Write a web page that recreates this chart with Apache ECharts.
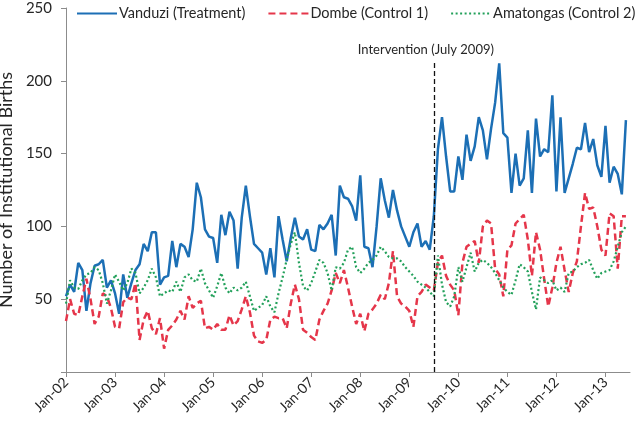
<!DOCTYPE html>
<html>
<head>
<meta charset="utf-8">
<script src="https://cdn.jsdelivr.net/npm/echarts@6/dist/echarts.min.js"></script>
<style>
html,body{margin:0;padding:0;background:#fff;}
#chart{width:640px;height:429px;}
</style>
</head>
<body>
<div id="chart"></div>
<script>
// ---- data ----
const monthNames = ['Jan','Feb','Mar','Apr','May','Jun','Jul','Aug','Sep','Oct','Nov','Dec'];
const startYear = 2002;
const monthCount = 139; // Jan-02 .. Jul-13 (axis extent)
const tickLabels = ['Jan-02','Jan-03','Jan-04','Jan-05','Jan-06','Jan-07','Jan-08','Jan-09','Jan-10','Jan-11','Jan-12','Jan-13'];
const yTicks = [0, 50, 100, 150, 200, 250];
const interventionMonth = 'Jul-09';
const interventionLabel = 'Intervention (July 2009)';
const interventionTop = 214;

const vanduzi = [
 52,60,55,75,70,42,61,73,74,77,58,63,
 54,40,67,51,61,70,74,88,83,96,96,60,
 65,66,90,72,88,86,79,98,130,120,98,93,
 92,75,108,94,110,104,71,106,128,107,88,85,
 82,67,85,65,107,91,76,92,106,93,91,98,
 84,83,101,98,102,108,80,128,120,119,114,104,
 135,86,85,72,100,133,118,106,125,111,100,93,
 86,96,102,86,90,84,107,153,175,148,124,124,
 148,132,163,145,155,175,166,146,167,185,212,164,
 161,123,150,128,133,166,123,174,148,153,151,190,
 124,175,123,133,143,154,153,171,151,160,142,134,
 169,130,141,136,122,173
];
const dombe = [
 35,50,40,39,52,64,50,33,38,54,52,44,
 31,30,48,51,50,61,22,36,42,30,26,37,
 16,29,32,36,42,36,52,44,47,49,30,31,
 29,33,29,29,39,32,35,43,52,41,25,21,
 20,22,36,38,37,37,30,47,60,50,29,27,
 24,22,36,42,47,56,68,61,70,58,45,33,
 40,28,40,43,47,53,50,61,83,52,47,45,
 42,31,52,55,60,58,56,75,80,66,60,56,
 39,75,86,88,90,75,100,104,102,71,67,52,
 84,87,102,105,108,91,66,96,84,64,45,58,
 75,86,70,55,68,76,100,123,112,113,100,84,
 80,109,107,71,107,107
];
const amatongas = [
 47,63,58,57,63,67,68,72,70,61,47,56,
 67,62,56,61,71,68,54,58,63,71,65,52,
 54,56,55,62,55,65,67,63,62,71,61,56,
 51,59,68,58,54,58,56,58,62,52,42,44,
 46,52,45,41,54,65,77,88,96,75,59,56,
 61,69,77,75,68,56,72,71,75,84,86,72,
 68,71,75,77,80,86,83,79,78,78,76,72,
 69,66,62,60,58,55,52,80,60,48,45,52,
 72,62,72,82,69,75,77,75,72,68,63,58,
 55,53,63,74,72,69,55,43,65,63,61,63,
 56,58,55,68,69,72,74,75,77,70,64,68,
 69,70,76,86,96,100
];

// ---- build categories ----
const categories = [];
for (let i = 0; i < monthCount; i++) {
  const y = startYear + Math.floor(i / 12);
  categories.push(monthNames[i % 12] + '-' + String(y % 100).padStart(2, '0'));
}

const FONT = 'Lato, "Open Sans", sans-serif';
const TXT = '#262626';
const AX = '#8c8c8c';

const chart = echarts.init(document.getElementById('chart'), null, {renderer: 'canvas'});
chart.setOption({
  animation: false,
  textStyle: {fontFamily: FONT},
  grid: {left: 66, right: 10, top: 8, bottom: 57, outerBoundsMode: 'none', containLabel: false},
  legend: {
    left: 76, top: 6, right: 0, padding: 0,
    itemWidth: 40, itemHeight: 12, itemGap: 22,
    itemStyle: {opacity: 0},
    textStyle: {fontSize: 14.5, color: TXT, fontFamily: FONT, padding: [0, 0, 0, -3]},
    data: ['Vanduzi (Treatment)', 'Dombe (Control 1)', 'Amatongas (Control 2)']
  },
  xAxis: {
    type: 'category',
    data: categories,
    boundaryGap: false,
    axisLine: {lineStyle: {color: AX, width: 1}},
    axisTick: {show: true, length: 5, lineStyle: {color: AX}, interval: (i, v) => tickLabels.indexOf(v) >= 0},
    axisLabel: {
      interval: (i, v) => tickLabels.indexOf(v) >= 0,
      rotate: 45, fontSize: 14, color: TXT, margin: 8, fontFamily: FONT
    },
    splitLine: {show: false}
  },
  yAxis: {
    type: 'value',
    min: yTicks[0], max: yTicks[yTicks.length - 1], interval: 50,
    name: 'Number of Institutional Births',
    nameLocation: 'middle', nameGap: 48, nameRotate: 90,
    nameTextStyle: {fontSize: 18, color: TXT, fontFamily: FONT},
    axisLine: {show: true, lineStyle: {color: AX, width: 1}},
    axisTick: {show: true, length: 5, lineStyle: {color: AX}},
    axisLabel: {fontSize: 15, color: TXT, margin: 14, fontFamily: FONT,
      formatter: v => v === 0 ? '' : String(v)},
    splitLine: {show: false}
  },
  series: [
    {
      name: 'Vanduzi (Treatment)', type: 'line', data: vanduzi,
      symbol: 'none', smooth: false,
      lineStyle: {color: '#1c6fb5', width: 2.5},
      itemStyle: {color: '#1c6fb5'},
      markLine: {
        silent: true, symbol: 'none',
        lineStyle: {color: '#111', type: [5, 3], width: 1.3},
        label: {show: true, position: 'end', formatter: interventionLabel,
          color: TXT, fontSize: 13, fontFamily: FONT, distance: 4, padding: [0, 16, 0, 0]},
        data: [[{coord: [interventionMonth, 0]}, {coord: [interventionMonth, interventionTop]}]]
      }
    },
    {
      name: 'Dombe (Control 1)', type: 'line', data: dombe,
      symbol: 'none', smooth: false,
      lineStyle: {color: '#e5364a', width: 2.5, type: [7, 4]},
      itemStyle: {color: '#e5364a'}
    },
    {
      name: 'Amatongas (Control 2)', type: 'line', data: amatongas,
      symbol: 'none', smooth: false,
      lineStyle: {color: '#22a05a', width: 2.2, type: [2, 2.5]},
      itemStyle: {color: '#22a05a'}
    }
  ]
});
</script>
</body>
</html>
